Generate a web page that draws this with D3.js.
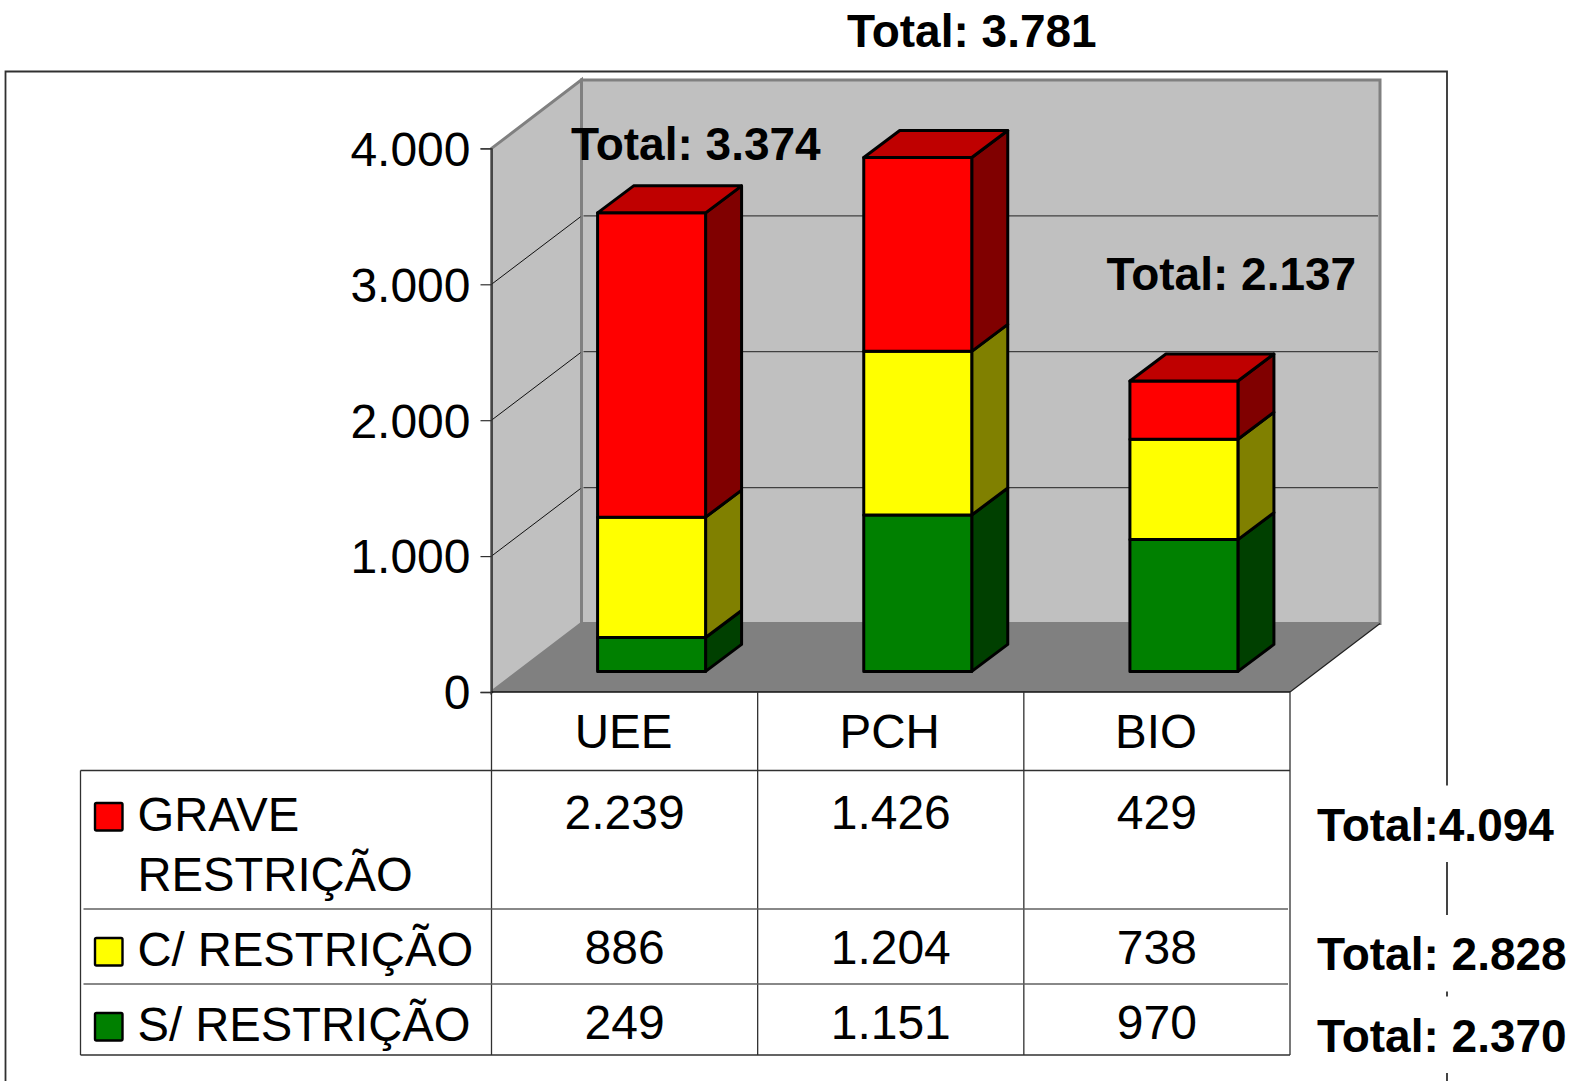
<!DOCTYPE html>
<html>
    <head>
        <meta charset="utf-8">
        <title>Restrições</title>
        <style>
            body{margin:0;background:#fff;}
            text{font-family:"Liberation Sans",Arial,sans-serif;fill:#000;}
        </style>
    </head>
    <body>
        <script src="https://cdn.jsdelivr.net/npm/d3@7/dist/d3.min.js"></script>
        <script>
        var categories=["UEE","PCH","BIO"]
        var seriesNames=["S/ RESTRIÇÃO","C/ RESTRIÇÃO","GRAVE RESTRIÇÃO"]
        var semRestricao=[249,1151,970]
        var comRestricao=[886,1204,738]
        var graveRestricao=[2239,1426,429]
        var yTicks=[0,1000,2000,3000,4000]

        var frontColors=["#008000","#ffff00","#ff0000"]
        var sideColors=["#004000","#808000","#800000"]
        var topColor="#bf0000"

        var seriesValues=[semRestricao,comRestricao,graveRestricao]
        var fmt=d3.formatLocale({decimal:",",thousands:".",grouping:[3],currency:["",""]}).format(",d")

        var svg=d3.select("body").append("svg")
                .attr("width",1576)
                .attr("height",1081)
                .style("display","block")

        // frame runs off the bottom of the picture
        svg.append("path")
            .attr("d","M5.5,1081V71.5H1447V1081")
            .attr("fill","none")
            .attr("stroke","#303030")
            .attr("stroke-width",1.8)

        var x=d3.scaleBand().domain(categories).range([491.5,1290])
        var y=d3.scaleLinear().domain([0,4000]).range([692,148.4])

        var wallDx=90,wallDy=68.5       // depth of the floor
        var barDx=36,barDy=27           // depth of one bar
        var barW=108
        var offX=(wallDx-barDx)/2,offY=20.6

        var x0=x.range()[0],x1=x.range()[1],y0=y(0),yTop=y(4000)

        // walls and floor
        svg.append("path")
            .attr("d",d3.line()([[x0+wallDx,yTop-wallDy],[x1+wallDx,yTop-wallDy],[x1+wallDx,y0-wallDy],[x0+wallDx,y0-wallDy]])+"Z")
            .attr("fill","#c0c0c0")
            .attr("stroke","#808080")
            .attr("stroke-width",3)
        svg.append("path")
            .attr("d",d3.line()([[x0,y0],[x0,yTop],[x0+wallDx,yTop-wallDy],[x0+wallDx,y0-wallDy]])+"Z")
            .attr("fill","#c0c0c0")
            .attr("stroke","#808080")
            .attr("stroke-width",3)
        svg.append("path")
            .attr("d",d3.line()([[x0,y0],[x1,y0],[x1+wallDx,y0-wallDy],[x0+wallDx,y0-wallDy]])+"Z")
            .attr("fill","#808080")
        svg.append("line")
            .attr("x1",x1).attr("y1",y0)
            .attr("x2",x1+wallDx).attr("y2",y0-wallDy)
            .attr("stroke","#202020")
            .attr("stroke-width",1.2)

        // gridlines, back wall then left wall
        var grid=yTicks.filter(d=>d>0&&d<4000)
        svg.selectAll(".gridBack").data(grid).join("line")
            .attr("class","gridBack")
            .attr("x1",x0+wallDx+2).attr("x2",x1+wallDx-2)
            .attr("y1",d=>y(d)-wallDy).attr("y2",d=>y(d)-wallDy)
            .attr("stroke","#404040")
            .attr("stroke-width",1.3)
        svg.selectAll(".gridLeft").data(grid).join("line")
            .attr("class","gridLeft")
            .attr("x1",x0).attr("x2",x0+wallDx-1)
            .attr("y1",d=>y(d)).attr("y2",d=>y(d)-wallDy+1)
            .attr("stroke","#101010")
            .attr("stroke-width",1)

        // y axis
        var yAxis=d3.axisLeft(y).tickValues(yTicks).tickFormat(fmt).tickSize(11).tickPadding(10)
        var axisG=svg.append("g").attr("transform","translate("+x0+",0)").call(yAxis)
        axisG.select(".domain").attr("stroke","#303030").attr("stroke-width",1.4)
        axisG.selectAll(".tick line").attr("stroke","#303030").attr("stroke-width",1.2)
        axisG.selectAll(".tick text")
            .attr("font-size",48)
            .attr("font-family","Liberation Sans")
            .attr("fill","#000")
            .attr("dy","0.35em")

        // stacked bars
        var stackData=categories.map(function(c,i){
            var o={cat:c}
            seriesNames.forEach(function(s,j){o[s]=seriesValues[j][i]})
            return o
        })
        var stacked=d3.stack().keys(seriesNames)(stackData)

        var barLeft=c=>x(c)+(x.bandwidth()-barW)/2+offX
        var barY=v=>y(v)-offY

        var barG=svg.append("g")
                .attr("stroke","#000")
                .attr("stroke-width",3)
                .attr("stroke-linejoin","round")

        stacked.forEach(function(layer,j){
            layer.forEach(function(d){
                var c=d.data.cat
                var l=barLeft(c),r=l+barW,b=barY(d[0]),t=barY(d[1])
                barG.append("path")
                    .attr("d",d3.line()([[r,b],[r+barDx,b-barDy],[r+barDx,t-barDy],[r,t]])+"Z")
                    .attr("fill",sideColors[j])
                barG.append("rect")
                    .attr("x",l).attr("y",t)
                    .attr("width",barW).attr("height",b-t)
                    .attr("fill",frontColors[j])
                if(j==stacked.length-1){
                    barG.append("path")
                        .attr("d",d3.line()([[l,t],[l+barDx,t-barDy],[r+barDx,t-barDy],[r,t]])+"Z")
                        .attr("fill",topColor)
                }
            })
        })

        // data table
        var tableLeft=80.5
        var rowLines=[770.5,909,984,1055]
        var table=svg.append("g").attr("stroke","#303030").attr("stroke-width",1.3)
        table.append("line").attr("x1",x0).attr("x2",x1).attr("y1",y0).attr("y2",y0).attr("stroke","#101010")
        table.selectAll(".vline").data(categories.concat(["end"])).join("line")
            .attr("class","vline")
            .attr("x1",d=>d=="end"?x1:x(d)).attr("x2",d=>d=="end"?x1:x(d))
            .attr("y1",y0).attr("y2",rowLines[3])
        table.append("line").attr("x1",tableLeft).attr("x2",tableLeft).attr("y1",rowLines[0]).attr("y2",rowLines[3])
        table.selectAll(".hline").data(rowLines).join("line")
            .attr("class","hline")
            .attr("x1",(d,i)=>i==1||i==2?tableLeft+3:tableLeft)
            .attr("x2",(d,i)=>i==1||i==2?x1-2:x1)
            .attr("y1",d=>d).attr("y2",d=>d)
            .attr("stroke",(d,i)=>i==1||i==2?"#606060":"#303030")

        svg.selectAll(".catLabel").data(categories).join("text")
            .attr("class","catLabel")
            .attr("x",d=>x(d)+x.bandwidth()/2-1)
            .attr("y",748)
            .attr("text-anchor","middle")
            .attr("font-size",47.5)
            .text(d=>d)

        // rows top to bottom: grave, com, sem
        var rowOrder=[2,1,0]
        var valueBase=[829,964,1039]
        var legendBase=[[831,891],[966],[1041]]
        var legendText=[["GRAVE","RESTRIÇÃO"],["C/ RESTRIÇÃO"],["S/ RESTRIÇÃO"]]
        rowOrder.forEach(function(s,r){
            svg.selectAll(".val"+s).data(seriesValues[s]).join("text")
                .attr("class","val"+s)
                .attr("x",(d,i)=>x(categories[i])+x.bandwidth()/2)
                .attr("y",valueBase[r])
                .attr("text-anchor","middle")
                .attr("font-size",48)
                .text(d=>fmt(d))
            svg.append("rect")
                .attr("x",95).attr("y",legendBase[r][legendBase[r].length-1]-(r==0?88:28))
                .attr("width",27.5).attr("height",27.5)
                .attr("rx",1.5)
                .attr("fill",frontColors[s])
                .attr("stroke","#000")
                .attr("stroke-width",2.4)
            legendText[r].forEach(function(t,k){
                svg.append("text")
                    .attr("x",137.5)
                    .attr("y",legendBase[r][k])
                    .attr("font-size",47.2)
                    .text(t)
            })
        })

        // totals
        var barTotal=categories.map((c,i)=>d3.sum(seriesValues,s=>s[i]))
        var barLabelPos=[[571,160],[847,47],[1106.5,289.5]]
        barTotal.forEach(function(t,i){
            svg.append("text")
                .attr("x",barLabelPos[i][0]).attr("y",barLabelPos[i][1])
                .attr("font-size",46)
                .attr("font-weight","bold")
                .text("Total: "+fmt(t))
        })

        var rowSep=[":",": ",": "]
        var rowTotalBase=[840.5,970,1051.5]
        rowOrder.forEach(function(s,r){
            // white box behind the label cuts the frame line
            svg.append("rect")
                .attr("x",1317).attr("y",rowTotalBase[r]-55)
                .attr("width",259).attr("height",76.5)
                .attr("fill","#fff")
            svg.append("text")
                .attr("x",1317).attr("y",rowTotalBase[r])
                .attr("font-size",46)
                .attr("font-weight","bold")
                .text("Total"+rowSep[r]+fmt(d3.sum(seriesValues[s])))
        })
        </script>
    </body>
</html>
